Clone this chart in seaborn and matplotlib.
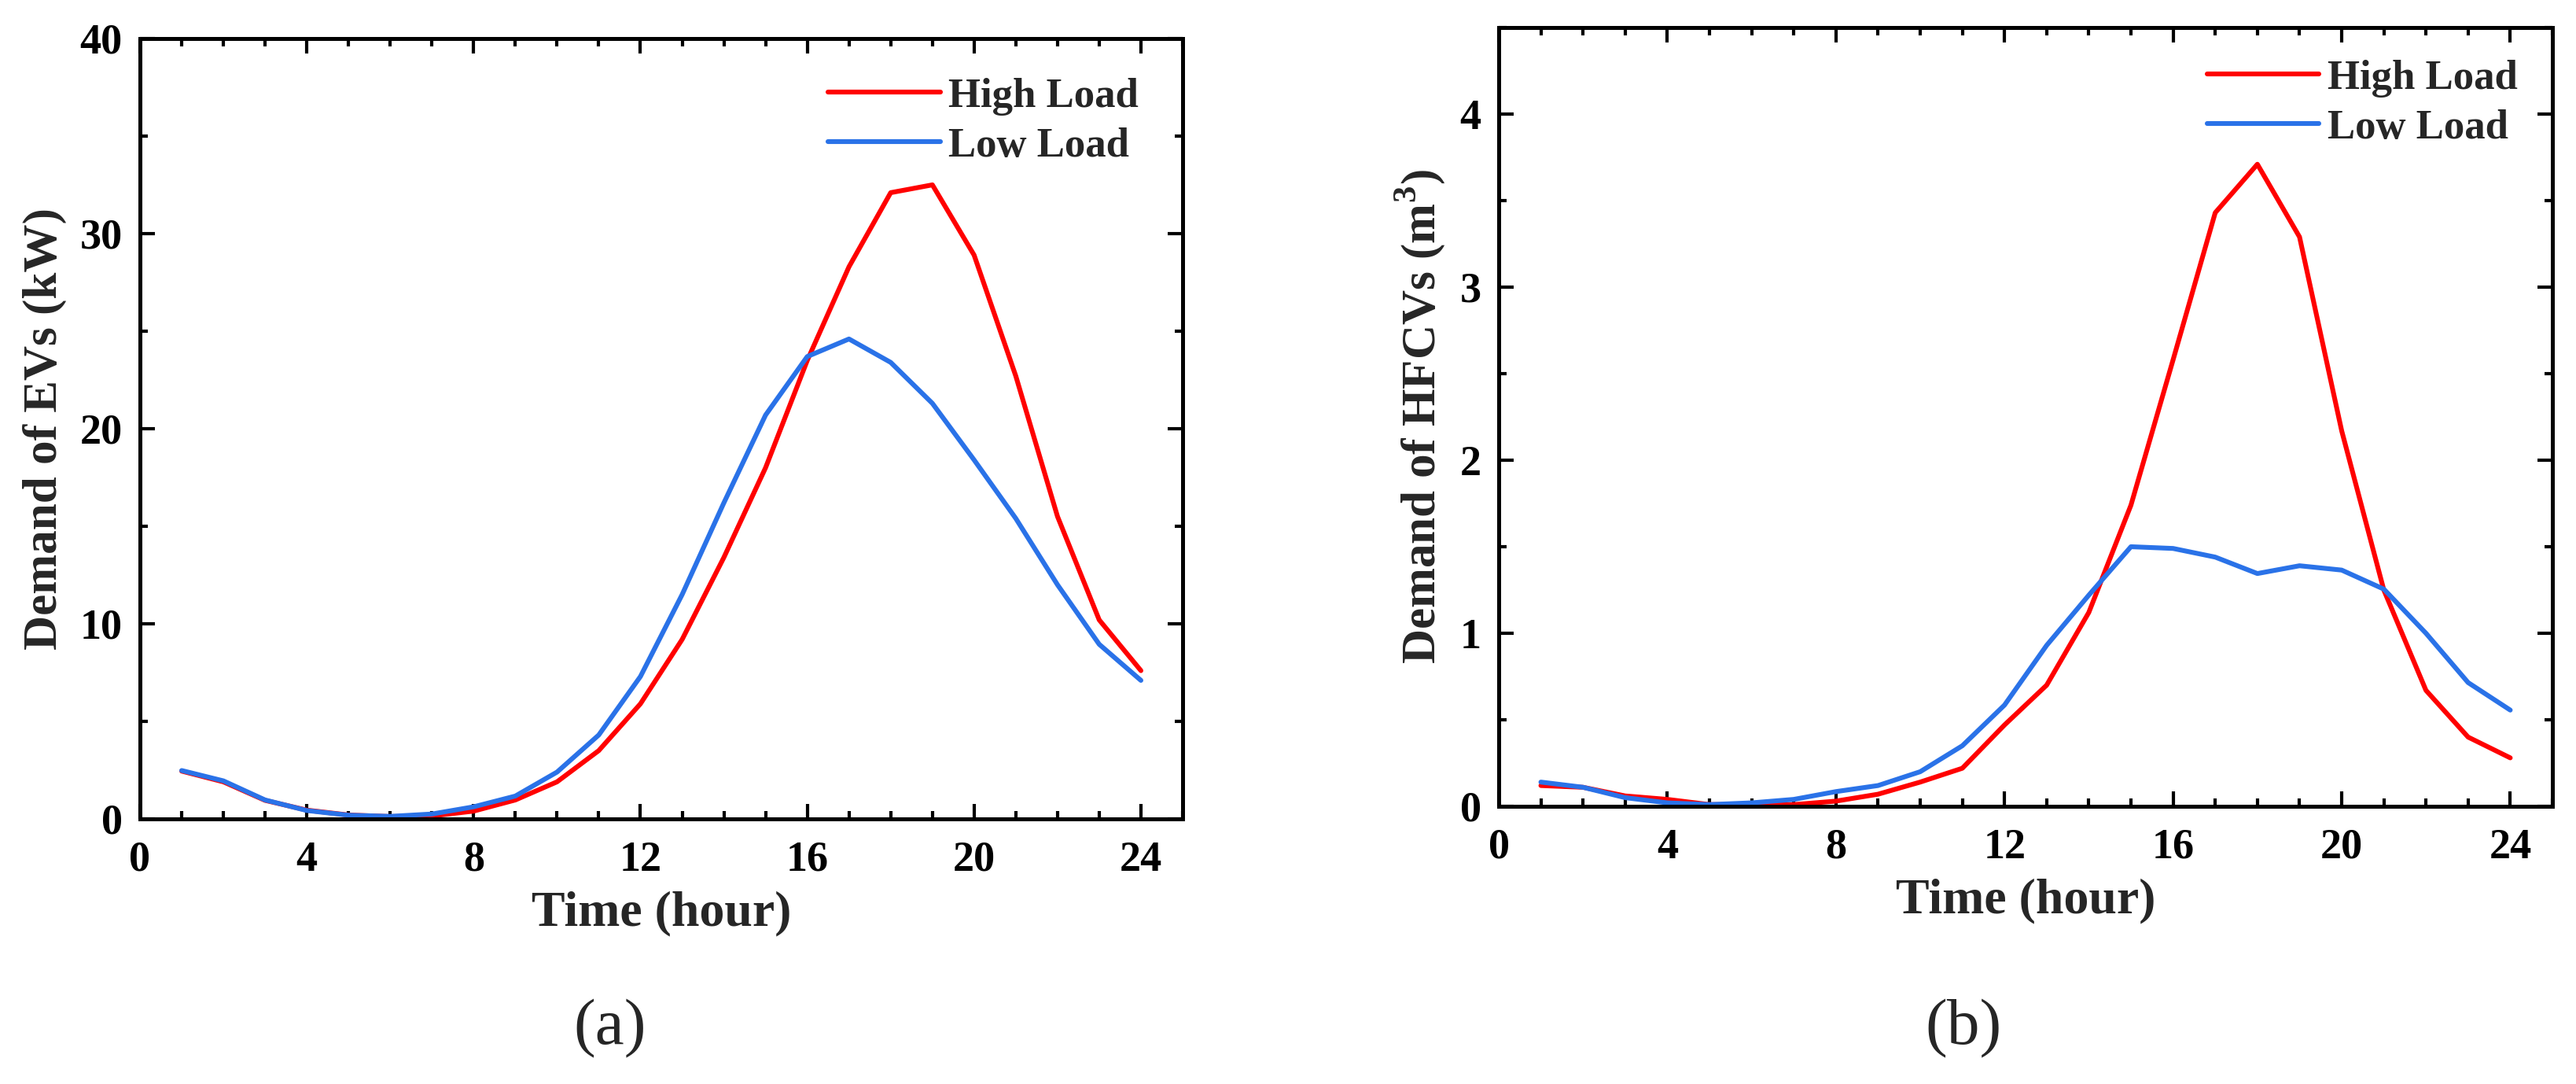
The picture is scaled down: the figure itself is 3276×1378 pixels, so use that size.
import numpy as np
import pandas as pd
import matplotlib
matplotlib.use("Agg")
import matplotlib.pyplot as plt
from matplotlib.ticker import MultipleLocator
import seaborn as sns

hours = list(range(1, 25))
ev_high = [2.45, 1.9, 0.95, 0.45, 0.2, 0.12, 0.15, 0.4, 0.97, 1.9, 3.5, 5.9,
           9.2, 13.4, 18.0, 23.5, 28.3, 32.1, 32.5, 28.9, 22.7, 15.5, 10.2, 7.6]
ev_low = [2.48, 1.95, 0.97, 0.43, 0.19, 0.13, 0.25, 0.62, 1.17, 2.4, 4.3, 7.3,
          11.5, 16.2, 20.7, 23.7, 24.6, 23.4, 21.3, 18.4, 15.4, 12.0, 8.95, 7.1]
h2_high = [0.12, 0.11, 0.06, 0.04, 0.01, 0.01, 0.01, 0.03, 0.07, 0.14, 0.22, 0.47,
           0.70, 1.12, 1.74, 2.58, 3.43, 3.71, 3.29, 2.17, 1.25, 0.67, 0.40, 0.28]
h2_low = [0.14, 0.11, 0.05, 0.02, 0.01, 0.02, 0.04, 0.085, 0.12, 0.2, 0.35, 0.585,
          0.93, 1.22, 1.50, 1.49, 1.44, 1.345, 1.39, 1.365, 1.255, 1.0, 0.715, 0.556]
series_names = ["High Load", "Low Load"]
x_ticks = [0, 4, 8, 12, 16, 20, 24]
x_label = "Time (hour)"
y_label_a = "Demand of EVs (kW)"
y_label_b = "Demand of HFCVs (m$^\\mathbf{3}$)"
panel_labels = ["(a)", "(b)"]

sns.set_style("ticks")
plt.rcParams["font.family"] = ["Liberation Serif", "DejaVu Serif"]
plt.rcParams["mathtext.fontset"] = "custom"
plt.rcParams["mathtext.rm"] = "Liberation Serif"
plt.rcParams["mathtext.bf"] = "Liberation Serif:bold"

palette = {"High Load": "#FF0000", "Low Load": "#2A72E8"}

def make_df(high, low):
    return pd.DataFrame({
        "hour": hours * 2,
        "value": high + low,
        "series": [series_names[0]] * len(hours) + [series_names[1]] * len(hours),
    })

W, H = 3276, 1378
dpi = 200
fig = plt.figure(figsize=(W / dpi, H / dpi), dpi=dpi)
ax1 = fig.add_axes([178 / W, 1 - 1041 / H, 1326 / W, 992 / H])
ax2 = fig.add_axes([1906 / W, 1 - 1025 / H, 1340 / W, 990 / H])

configs = [
    (ax1, make_df(ev_high, ev_low), 40, 10, 5, y_label_a, (0.958, 0.950)),
    (ax2, make_df(h2_high, h2_low), 4.5, 1, 0.5, y_label_b, (0.967, 0.959)),
]

for ax, df, ymax, ymaj, ymin, ylab, leg_anchor in configs:
    sns.lineplot(data=df, x="hour", y="value", hue="series", palette=palette,
                 linewidth=2.2, ax=ax, legend=True)
    ax.set_xlim(0, 25)
    ax.set_ylim(0, ymax)
    ax.set_xticks(x_ticks)
    ax.xaxis.set_minor_locator(MultipleLocator(1))
    ax.yaxis.set_major_locator(MultipleLocator(ymaj))
    ax.yaxis.set_minor_locator(MultipleLocator(ymin))
    for s in ax.spines.values():
        s.set_visible(True)
        s.set_linewidth(1.8)
        s.set_color("black")
    ax.tick_params(which="both", direction="in", top=True, right=True,
                   width=1.5, colors="black")
    ax.tick_params(which="major", length=7, labelsize=19.5)
    ax.tick_params(which="minor", length=3.5)
    ax.tick_params(axis="x", which="major", pad=10)
    ax.tick_params(axis="y", which="major", pad=8)
    for lab in ax.get_xticklabels() + ax.get_yticklabels():
        lab.set_fontweight("bold")
    ax.set_xlabel(x_label, fontsize=23, fontweight="bold", labelpad=5)
    ax.set_ylabel(ylab, fontsize=22, fontweight="bold", labelpad=6)
    leg = ax.legend(loc="upper right", bbox_to_anchor=leg_anchor, frameon=False,
                    fontsize=19, handlelength=2.7, handletextpad=0.2,
                    labelspacing=0.29, borderpad=0, borderaxespad=0)
    for t in leg.get_texts():
        t.set_fontweight("bold")
    for ln in leg.get_lines():
        ln.set_linewidth(2.2)

fig.text(776 / W, 1 - 1308 / H, panel_labels[0], ha="center", va="center", fontsize=30)
fig.text(2497 / W, 1 - 1308 / H, panel_labels[1], ha="center", va="center", fontsize=30)

fig.savefig("out.png", dpi=dpi, facecolor="white")
